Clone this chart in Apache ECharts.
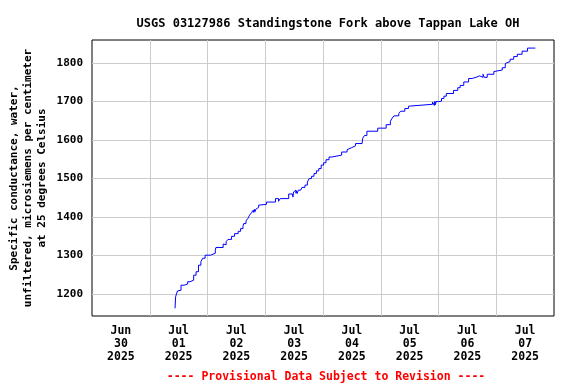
<!DOCTYPE html>
<html><head><meta charset="utf-8">
<script src="https://cdn.jsdelivr.net/npm/echarts@6/dist/echarts.min.js"></script>
<style>html,body{margin:0;padding:0;background:#fff}#c{width:576px;height:384px}</style>
</head><body><div id="c"></div>
<script>
const titleText = 'USGS 03127986 Standingstone Fork above Tappan Lake OH';
const yAxisName = 'Specific conductance, water,\nunfiltered, microsiemens per centimeter\nat 25 degrees Celsius';
const footerText = '---- Provisional Data Subject to Revision ----';
const dayLabels = ['Jun\n30\n2025','Jul\n01\n2025','Jul\n02\n2025','Jul\n03\n2025','Jul\n04\n2025','Jul\n05\n2025','Jul\n06\n2025','Jul\n07\n2025'];
const xStart = '2025-06-30T00:00Z';
const xEnd = '2025-07-08T00:00Z';
const yMin = 1143, yMax = 1860;
const times = [
'07-01 10:30','07-01 10:45','07-01 11:30','07-01 12:15','07-01 13:00','07-01 14:15','07-01 14:30','07-01 14:45','07-01 15:45','07-01 16:45',
'07-01 18:15','07-01 19:15','07-01 20:15','07-01 21:15','07-01 22:00','07-01 23:00','07-02 01:15','07-02 03:15','07-02 03:30','07-02 06:30',
'07-02 06:45','07-02 07:00','07-02 07:45','07-02 08:30','07-02 10:00','07-02 11:15','07-02 12:45','07-02 13:45','07-02 14:45','07-02 15:00',
'07-02 16:00','07-02 16:45','07-02 17:30','07-02 18:15','07-02 19:00','07-02 19:15','07-02 19:30','07-02 19:45','07-02 20:00','07-02 20:45',
'07-02 21:15','07-02 21:45','07-03 00:30','07-03 04:15','07-03 05:30','07-03 06:15','07-03 09:45','07-03 11:15','07-03 11:30','07-03 11:45',
'07-03 12:15','07-03 12:45','07-03 13:00','07-03 13:15','07-03 13:45','07-03 14:45','07-03 15:15','07-03 16:30','07-03 17:30','07-03 18:15',
'07-03 19:15','07-03 20:15','07-03 21:15','07-03 22:15','07-03 23:15','07-04 00:15','07-04 01:15','07-04 02:30','07-04 03:45','07-04 07:45',
'07-04 10:00','07-04 10:45','07-04 11:45','07-04 13:30','07-04 16:15','07-04 16:30','07-04 17:15','07-04 18:15','07-04 22:45','07-05 02:15',
'07-05 04:00','07-05 04:45','07-05 05:30','07-05 07:30','07-05 08:15','07-05 10:00','07-05 11:30','07-05 12:15','07-05 21:30','07-05 22:15',
'07-05 22:30','07-05 22:45','07-05 23:00','07-06 00:00','07-06 01:15','07-06 02:15','07-06 03:15','07-06 06:15','07-06 08:00','07-06 09:00',
'07-06 10:30','07-06 12:30','07-06 14:00','07-06 16:00','07-06 17:00','07-06 17:45','07-06 18:30','07-06 19:00','07-06 20:15','07-06 23:00',
'07-06 23:15','07-07 02:30','07-07 03:45','07-07 04:30','07-07 05:45','07-07 07:15','07-07 08:45','07-07 10:45','07-07 13:00','07-07 16:15'
];
const values = [
1163,1193,1208,1210,1223,1227,1221,1226,1232,1236,
1249,1258,1275,1284,1293,1301,1306,1314,1321,1330,
1325,1328,1336,1342,1350,1357,1363,1370,1376,1383,
1390,1396,1405,1411,1418,1412,1420,1414,1420,1425,
1431,1433,1439,1448,1441,1448,1460,1465,1452,1465,
1470,1462,1468,1461,1470,1472,1477,1483,1491,1500,
1506,1513,1520,1526,1535,1541,1549,1556,1561,1569,
1575,1580,1585,1591,1596,1605,1612,1623,1631,1640,
1649,1657,1663,1669,1675,1682,1688,1693,1699,1690,
1701,1692,1700,1701,1708,1714,1721,1729,1736,1742,
1751,1760,1764,1767,1771,1763,1771,1763,1771,1778,
1782,1788,1799,1804,1810,1817,1823,1831,1839,1839
];
const DAY = 86400000;
const seriesData = times.map((t, i) => [Date.parse('2025-' + t.replace(' ', 'T') + 'Z'), values[i]]);
const font = 'DejaVu Sans Mono';
const chart = echarts.init(document.getElementById('c'), null, {renderer: 'canvas'});
chart.setOption({
  animation: false,
  backgroundColor: '#ffffff',
  title: [
    {text: titleText, left: 323, top: 13, textAlign: 'center',
     textStyle: {fontFamily: font, fontWeight: 'bold', fontSize: 12, color: '#000'}},
    {text: footerText, left: 321, top: 366, textAlign: 'center',
     textStyle: {fontFamily: font, fontWeight: 'bold', fontSize: 11.5, color: '#ff0000'}}
  ],
  grid: {left: 92, top: 40, width: 462, height: 276, containLabel: false, outerBoundsMode: 'none',
    show: true, borderColor: '#000', borderWidth: 1, backgroundColor: 'transparent'},
  xAxis: [
    {type: 'value', min: Date.parse(xStart), max: Date.parse(xEnd), interval: DAY,
     axisLabel: {show: false}, axisTick: {show: false}, axisLine: {show: false},
     splitLine: {show: true, showMinLine: false, showMaxLine: false, lineStyle: {color: '#cccccc', width: 1}}},
    {type: 'category', data: dayLabels, boundaryGap: true, position: 'bottom',
     axisLine: {show: false}, axisTick: {show: false}, splitLine: {show: false},
     axisLabel: {margin: 9, lineHeight: 13, fontFamily: font, fontWeight: 'bold', fontSize: 11.5, color: '#000', interval: 0}}
  ],
  yAxis: {type: 'value', min: yMin, max: yMax, minInterval: 100, maxInterval: 100,
    axisLine: {show: false}, axisTick: {show: false},
    axisLabel: {showMinLabel: false, showMaxLabel: false, margin: 9, fontFamily: font, fontWeight: 'bold', fontSize: 11, color: '#000',
      formatter: v => String(v)},
    splitLine: {show: true, showMinLine: false, showMaxLine: false, lineStyle: {color: '#cccccc', width: 1}},
    name: yAxisName, nameLocation: 'middle', nameRotate: 90, nameGap: 43, nameMoveOverlap: false,
    nameTextStyle: {fontFamily: font, fontWeight: 'bold', fontSize: 11, color: '#000', lineHeight: 14, align: 'center'}},
  series: [{type: 'line', xAxisIndex: 0, data: seriesData, step: 'end', showSymbol: false,
    lineStyle: {color: '#0000ff', width: 1}, itemStyle: {color: '#0000ff'}}]
});
</script></body></html>
